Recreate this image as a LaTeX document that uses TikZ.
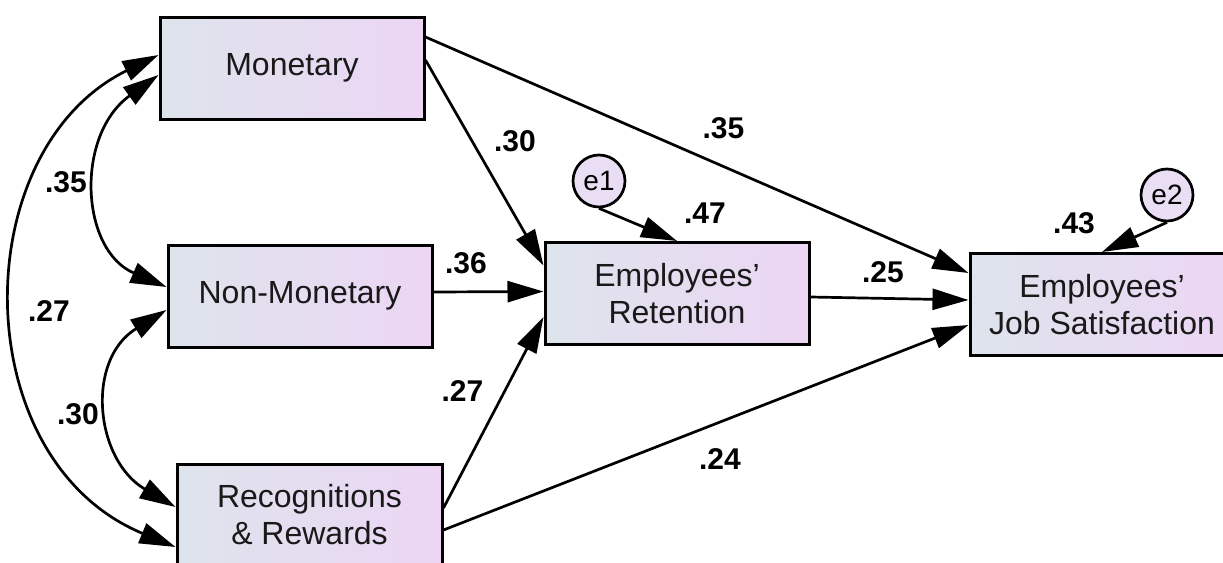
\documentclass[tikz,border=0pt]{standalone}
\usepackage{fontspec}
\setmainfont{Liberation Sans}
\usetikzlibrary{arrows.meta}
\definecolor{gl}{RGB}{222,228,236}
\definecolor{gr}{RGB}{236,214,244}
\definecolor{ef}{RGB}{233,222,243}
\begin{document}
\begin{tikzpicture}[x=1pt,y=-1pt,
  var/.style={draw=black, line width=3pt, left color=gl, right color=gr,
    minimum width=264pt, minimum height=102pt, inner sep=0pt, align=center,
    font=\fontsize{32}{37}\selectfont, text=black!90},
  err/.style={circle, draw=black, line width=2.7pt, fill=ef, minimum size=52pt,
    inner sep=0pt, font=\fontsize{28}{32}\selectfont},
  lab/.style={inner sep=0pt, font=\fontsize{30}{36}\selectfont\bfseries},
  arr/.style={-{Triangle[length=36pt,width=21pt]}, line width=2.7pt},
  cov/.style={{Triangle[length=36pt,width=21pt]}-{Triangle[length=36pt,width=21pt]}, line width=2.7pt}
]
\clip (0,0) rectangle (1223,562);
\fill[white] (0,0) rectangle (1223,562);

% boxes
\node[var] (mon) at (292,68) {Monetary};
\node[var] (non) at (300,296) {Non-Monetary};
\node[var, minimum width=265pt] (rec) at (309.5,515) {Recognitions\\\& Rewards};
\node[var] (ret) at (677,293.5) {Employees'\\Retention};
\node[var] (job) at (1102,304.5) {Employees'\\Job Satisfaction};

% error terms
\node[err] (e1) at (599,181) {e1};
\node[err] (e2) at (1167,195) {e2};

% directed paths
\draw[arr] ([yshift=8pt]mon.east) -- ([yshift=28pt]ret.west);
\draw[arr] ([yshift=31pt]mon.east) -- ([yshift=31.5pt]job.west);
\draw[arr] ([yshift=4pt]non.east) -- ([yshift=2pt]ret.west);
\draw[arr] ([yshift=7pt]rec.east) -- ([yshift=-23.5pt]ret.west);
\draw[arr] ([yshift=-15pt]rec.east) -- ([yshift=-20.5pt]job.west);
\draw[arr] ([yshift=-3.5pt]ret.east) -- ([yshift=4.5pt]job.west);
\draw[arr] (e1.south) -- (ret.north);
\draw[arr] (e2.south) -- (job.north);

% covariances
\draw[cov] ([yshift=-7pt]mon.west) .. controls (75,135) and (80,250) .. ([yshift=9pt]non.west);
\draw[cov] ([yshift=13pt]mon.west) .. controls (-35,150) and (-35,460) .. ([yshift=-32pt]rec.west);
\draw[cov] ([yshift=-14pt]non.west) .. controls (85,360) and (95,460) .. ([yshift=8pt]rec.west);

% labels
\node[lab] (l1) at (66,182.5) {.35};
\node[lab] (l2) at (49,311) {.27};
\node[lab] (l3) at (78,414) {.30};
\node[lab] (l4) at (515,141) {.30};
\node[lab] (l5) at (723.5,128) {.35};
\node[lab] (l6) at (705,213) {.47};
\node[lab] (l7) at (466,263) {.36};
\node[lab] (l8) at (462.5,391) {.27};
\node[lab] (l9) at (720,459) {.24};
\node[lab] (l10) at (883,272) {.25};
\node[lab] (l11) at (1074,223) {.43};
\end{tikzpicture}
\end{document}
